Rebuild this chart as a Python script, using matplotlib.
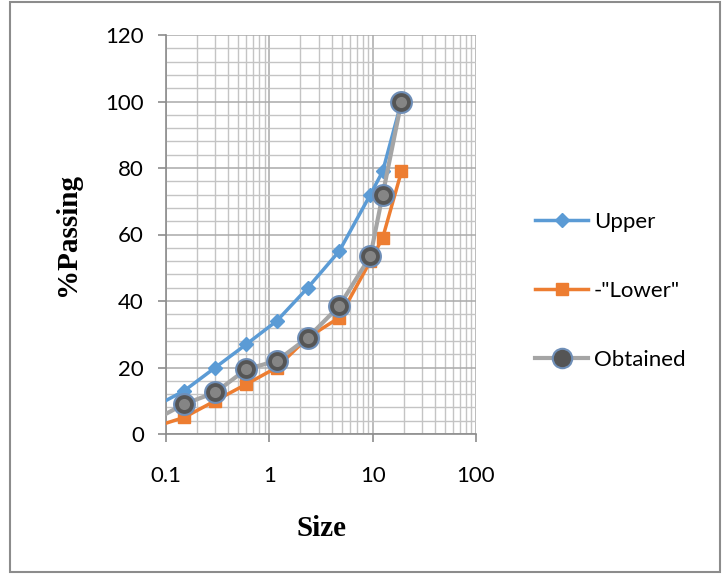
import numpy as np
import matplotlib.pyplot as plt
from matplotlib.lines import Line2D
from matplotlib.patches import Rectangle
from matplotlib.ticker import LogLocator, MultipleLocator, FixedLocator

# sieve sizes (mm) and % passing
size = [0.075, 0.15, 0.3, 0.6, 1.18, 2.36, 4.75, 9.5, 12.5, 19]
upper = [8, 13, 20, 27, 34, 44, 55, 72, 79, 100]
lower = [2, 5, 10, 15, 20, 29, 35, 52, 59, 79]
obtained = [4, 9, 12.5, 19.5, 22, 29, 38.5, 53.5, 72, 100]

x_ticks = [0.1, 1, 10, 100]
x_labels = ["0.1", "1", "10", "100"]

BLUE = "#5b9bd5"
ORANGE = "#ed7d31"
GRAY = "#a5a5a5"
GRID = "#c4c4c4"

W, H = 723, 574
fig = plt.figure(figsize=(W / 100, H / 100), dpi=100)
ax = fig.add_axes([166 / W, 1 - 434 / H, (476 - 166) / W, (434 - 35) / H])

ax.plot(size, upper, color=BLUE, lw=2.5, marker="D", ms=7,
        mfc=BLUE, mec=BLUE, zorder=3)
ax.plot(size, lower, color=ORANGE, lw=2.5, marker="s", ms=9,
        mfc=ORANGE, mec=ORANGE, zorder=4)
ax.plot(size, obtained, color=GRAY, lw=3, marker="o", ms=15,
        mfc="#555555", mec="#6f8fb8", mew=1.5, zorder=5)
# lighter core to give the balls a bit of shading
ax.plot(size, obtained, ls="none", marker="o", ms=8,
        mfc="#858585", mec="none", zorder=6)

ax.set_xscale("log")
ax.set_xlim(0.1, 100)
ax.set_ylim(0, 120)
ax.xaxis.set_major_locator(FixedLocator(x_ticks))
ax.set_xticklabels(x_labels)
ax.xaxis.set_minor_locator(LogLocator(base=10, subs=np.arange(2, 10)))
ax.xaxis.set_minor_formatter(plt.NullFormatter())
ax.yaxis.set_major_locator(MultipleLocator(20))
ax.yaxis.set_minor_locator(MultipleLocator(4))

ax.grid(True, which="major", color="#aaaaaa", lw=1.1, zorder=0)
ax.grid(True, which="minor", color=GRID, lw=1.0, zorder=0)
ax.set_axisbelow(True)

for side in ["top", "right"]:
    ax.spines[side].set_visible(False)
for side in ["left", "bottom"]:
    ax.spines[side].set_color("#8c8c8c")
    ax.spines[side].set_linewidth(1.2)

ax.tick_params(which="major", length=6, color="#8c8c8c", width=1.2,
               labelsize=16)
ax.tick_params(axis="x", which="major", pad=17)
ax.tick_params(axis="y", which="major", pad=10)
ax.tick_params(which="minor", length=0)
for lab in ax.get_xticklabels() + ax.get_yticklabels():
    lab.set_fontfamily("Lato")

fig.text(321 / W, 1 - 528 / H, "Size", fontsize=21, fontweight="bold",
         family="Liberation Serif", ha="center", va="center")
fig.text(68 / W, 1 - 234 / H, "%Passing", fontsize=21, fontweight="bold",
         family="Liberation Serif", ha="center", va="center", rotation=90)

handles = [
    Line2D([], [], color=BLUE, lw=2.5, marker="D", ms=7),
    Line2D([], [], color=ORANGE, lw=2.5, marker="s", ms=9),
    Line2D([], [], color=GRAY, lw=3, marker="o", ms=14,
           mfc="#555555", mec="#6f8fb8", mew=1.5),
]
fig.legend(handles, ["Upper", '-"Lower"', "Obtained"],
           loc="center left", bbox_to_anchor=(515 / W, 1 - 291 / H),
           frameon=False, handlelength=2.4, handletextpad=0.25,
           labelspacing=2.2, prop={"family": "Lato", "size": 16})

fig.patches.append(Rectangle((10 / W, 2 / H), 710 / W, 570 / H,
                             transform=fig.transFigure, fill=False,
                             edgecolor="#8c8c8c", lw=1.5))

fig.savefig("out.png", dpi=100)
